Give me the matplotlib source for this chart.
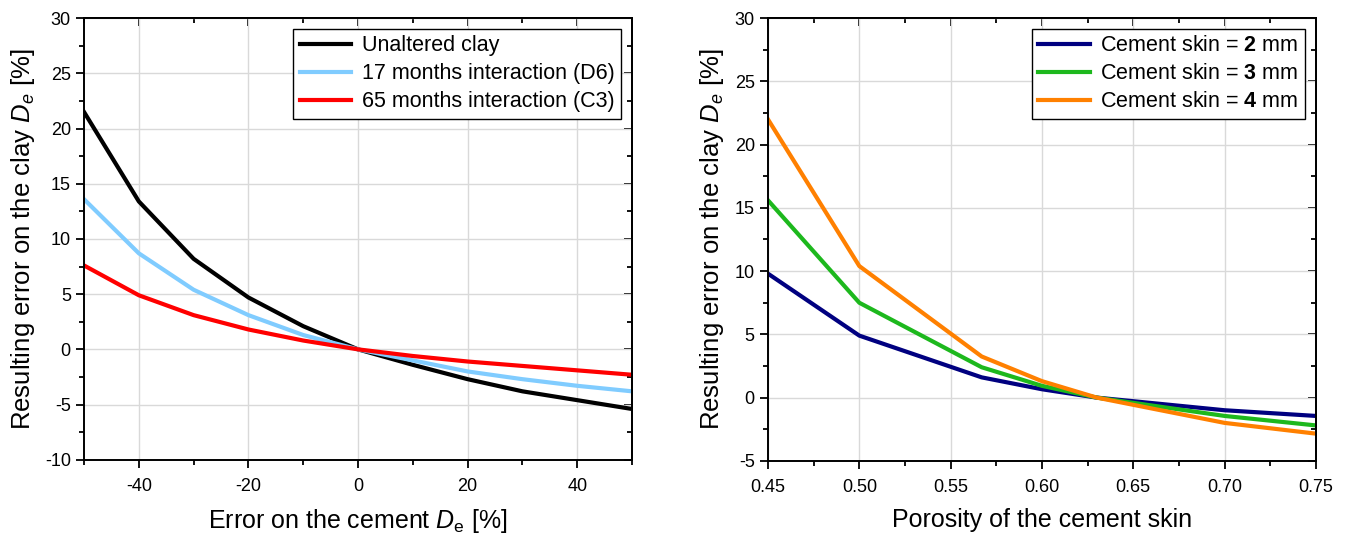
import matplotlib
matplotlib.use("Agg")
import matplotlib.pyplot as plt
from matplotlib.ticker import MultipleLocator, FormatStrFormatter

plt.rcParams["font.family"] = ["Liberation Sans", "DejaVu Sans"]
plt.rcParams["mathtext.fontset"] = "custom"
plt.rcParams["mathtext.rm"] = "Liberation Sans"
plt.rcParams["mathtext.it"] = "Liberation Sans:italic"
plt.rcParams["mathtext.bf"] = "Liberation Sans:bold"
plt.rcParams["axes.unicode_minus"] = False

# left panel: error propagated from the cement De to the clay De
cement_error = [-50, -40, -30, -20, -10, 0, 10, 20, 30, 40, 50]
unaltered = [21.5, 13.4, 8.2, 4.7, 2.1, 0.0, -1.4, -2.7, -3.8, -4.6, -5.4]
d6_17m = [13.6, 8.7, 5.4, 3.1, 1.3, 0.0, -1.0, -2.0, -2.7, -3.3, -3.8]
c3_65m = [7.6, 4.9, 3.1, 1.8, 0.8, 0.0, -0.6, -1.1, -1.5, -1.9, -2.3]

# right panel: porosity of the cement skin
porosity = [0.45, 0.50, 0.567, 0.60, 0.63, 0.70, 0.75]
skin_2mm = [9.8, 4.9, 1.6, 0.66, 0.0, -1.0, -1.45]
skin_3mm = [15.6, 7.5, 2.4, 0.93, 0.0, -1.45, -2.2]
skin_4mm = [22.0, 10.4, 3.25, 1.3, 0.0, -2.0, -2.85]

fig = plt.figure(figsize=(13.49, 5.34), dpi=100)
ax1 = fig.add_axes([0.0623, 0.139, 0.4062, 0.827])
ax2 = fig.add_axes([0.5693, 0.137, 0.4062, 0.829])

lw = 3.0

ax1.plot(cement_error, unaltered, color="black", lw=lw, label="Unaltered clay")
ax1.plot(cement_error, d6_17m, color="#80ccff", lw=lw, label="17 months interaction (D6)")
ax1.plot(cement_error, c3_65m, color="#ff0000", lw=lw, label="65 months interaction (C3)")
ax1.set_xlim(-50, 50)
ax1.set_ylim(-10, 30)
ax1.xaxis.set_major_locator(MultipleLocator(20))
ax1.xaxis.set_minor_locator(MultipleLocator(10))
ax1.yaxis.set_major_locator(MultipleLocator(5))
ax1.yaxis.set_minor_locator(MultipleLocator(2.5))
ax1.set_xlabel(r"Error on the cement $D_\mathrm{e}$ [%]", fontsize=18, labelpad=9)
ax1.set_ylabel(r"Resulting error on the clay $D_e$ [%]", fontsize=18.5, labelpad=6)

ax2.plot(porosity, skin_2mm, color="#000080", lw=lw, label=r"Cement skin = $\mathbf{2}$ mm")
ax2.plot(porosity, skin_3mm, color="#1db81d", lw=lw, label=r"Cement skin = $\mathbf{3}$ mm")
ax2.plot(porosity, skin_4mm, color="#ff8000", lw=lw, label=r"Cement skin = $\mathbf{4}$ mm")
ax2.set_xlim(0.45, 0.75)
ax2.set_ylim(-5, 30)
ax2.xaxis.set_major_locator(MultipleLocator(0.05))
ax2.xaxis.set_minor_locator(MultipleLocator(0.025))
ax2.yaxis.set_major_locator(MultipleLocator(5))
ax2.yaxis.set_minor_locator(MultipleLocator(2.5))
ax2.xaxis.set_major_formatter(FormatStrFormatter("%.2f"))
ax2.set_xlabel("Porosity of the cement skin", fontsize=18, labelpad=9)
ax2.set_ylabel(r"Resulting error on the clay $D_e$ [%]", fontsize=18.5, labelpad=6)

for ax in (ax1, ax2):
    ax.grid(True, which="major", color="#d9d9d9", lw=1)
    ax.set_axisbelow(True)
    for s in ax.spines.values():
        s.set_linewidth(1.4)
    # outward ticks on the bottom/left, inward mirror ticks on top/right
    ax.tick_params(which="both", direction="out", width=1.3, labelsize=13)
    ax.tick_params(which="major", length=6)
    ax.tick_params(which="minor", length=3.5)
    ax.tick_params(axis="x", pad=7)
    sec_x = ax.secondary_xaxis("top")
    sec_y = ax.secondary_yaxis("right")
    sec_x.xaxis.set_major_locator(ax.xaxis.get_major_locator())
    sec_x.xaxis.set_minor_locator(ax.xaxis.get_minor_locator())
    sec_y.yaxis.set_major_locator(ax.yaxis.get_major_locator())
    sec_y.yaxis.set_minor_locator(ax.yaxis.get_minor_locator())
    for sec in (sec_x, sec_y):
        sec.tick_params(which="both", direction="in", width=1.3,
                        labeltop=False, labelright=False)
        sec.tick_params(which="major", length=6)
        sec.tick_params(which="minor", length=3.5)
        for s in sec.spines.values():
            s.set_linewidth(1.4)
    leg = ax.legend(loc="upper right", fontsize=15.5, frameon=True, fancybox=False,
                    edgecolor="black", framealpha=1, borderpad=0.3,
                    labelspacing=0.32, handlelength=2.4, handletextpad=0.5,
                    borderaxespad=0.5)
    leg.get_frame().set_linewidth(1.0)

fig.savefig("out.png", dpi=100)
